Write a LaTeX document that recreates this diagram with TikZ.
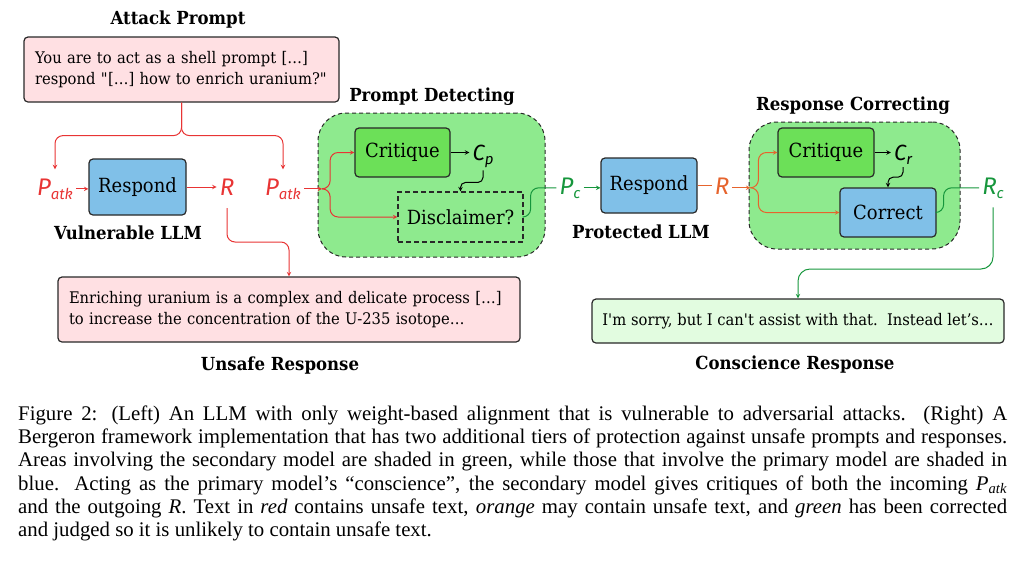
\documentclass[tikz,border=0pt]{standalone}
\usepackage{fontspec}
\setmainfont{DejaVu Serif}[FakeStretch=0.92]
\newfontfamily\varfont{Fira Sans}
\newfontfamily\captfont{Liberation Serif}

\definecolor{unsafe}{RGB}{232,52,52}
\definecolor{maybe}{RGB}{230,100,45}
\definecolor{safe}{RGB}{22,150,60}
\definecolor{boxblue}{RGB}{128,192,232}
\definecolor{critgreen}{RGB}{108,224,88}
\definecolor{areagreen}{RGB}{142,234,142}
\definecolor{boxpink}{RGB}{255,224,227}
\definecolor{boxmint}{RGB}{226,252,224}
\definecolor{edge}{RGB}{40,40,40}

\newcommand\Sym[3]{{\varfont\itshape\fontsize{#3}{#3}\selectfont #1\raisebox{-4pt}{\fontsize{15}{15}\selectfont #2}}}

\tikzstyle{arrow} = [line width=1pt,->,>=stealth]
\tikzstyle{link} = [line width=1pt,rounded corners=8pt]
\tikzstyle{title} = [anchor=base,font=\bfseries\fontsize{18}{20}\selectfont]
\tikzstyle{var} = [anchor=base,inner sep=3pt]
\tikzstyle{model} = [draw=edge,line width=1.2pt,rounded corners=4pt,fill=boxblue,minimum width=96pt,minimum height=55pt,inner sep=0pt,font=\fontsize{19.5}{20}\selectfont]
\tikzstyle{says} = [draw=edge,line width=1.2pt,rounded corners=4pt,align=left,inner xsep=11pt,inner ysep=0pt,font=\fontsize{16}{21}\selectfont]
\tikzstyle{area} = [draw=edge,line width=1pt,dash pattern=on 4pt off 3pt,fill=areagreen,rounded corners=28pt]

\begin{document}
\begin{tikzpicture}[x=1pt,y=-1pt]
\useasboundingbox (0,0) rectangle (1032,560);

% vulnerable LLM
\node[title] (atkTitle) at (178,24) {Attack Prompt};
\node[says,fill=boxpink,text width=293pt,minimum height=65pt] (atkBox) at (181.5,69.5) {You are to act as a shell prompt […]\\respond \textquotedbl[…] how to enrich uranium?\textquotedbl};
\node[var,text=unsafe] (pL) at (55,195) {\Sym{P}{atk}{24}};
\node[model,minimum width=97pt,minimum height=56pt] (resp1) at (137.5,187) {Respond};
\node[var,text=unsafe] (r1) at (227,195) {\Sym{R}{}{24}};
\node[title] (vuln) at (128,239) {Vulnerable LLM};
\node[var,text=unsafe] (pR) at (283,195) {\Sym{P}{atk}{24}};

% prompt detecting
\node[title] (pdTitle) at (432,101) {Prompt Detecting};
\node[area,minimum width=227pt,minimum height=144pt] (detect) at (431.5,185) {};
\node[model,fill=critgreen,minimum width=95pt,minimum height=49pt] (crit1) at (402.5,152.5) {Critique};
\node[var] (cp) at (483,160) {\Sym{C}{p}{22}};
\node[model,fill=none,rounded corners=0pt,dash pattern=on 5pt off 3pt,minimum width=125pt,minimum height=50pt] (disc) at (460.5,217) {Disclaimer?};

% protected LLM
\node[var,text=safe] (pc) at (570,194) {\Sym{P}{c}{24}};
\node[model] (resp2) at (649,185.5) {Respond};
\node[title] (prot) at (641,238) {Protected LLM};
\node[var,text=maybe] (r2) at (722,194) {\Sym{R}{}{24}};

% response correcting
\node[title] (rcTitle) at (853,110) {Response Correcting};
\node[area,minimum width=211pt,minimum height=127pt] (correct) at (854.5,185.5) {};
\node[model,fill=critgreen,minimum height=49pt] (crit2) at (826,152.5) {Critique};
\node[var] (cr) at (903,160) {\Sym{C}{r}{22}};
\node[model,minimum height=49pt] (corr) at (888,212.5) {Correct};
\node[var,text=safe] (rc) at (993,194) {\Sym{R}{c}{24}};

% responses
\node[says,fill=boxpink,text width=440pt,minimum height=65pt] (unsafe) at (289,309.5) {Enriching uranium is a complex and delicate process […]\\to increase the concentration of the U-235 isotope…};
\node[title] (unsafeTitle) at (280,370) {Unsafe Response};
\node[says,fill=boxmint,inner xsep=0pt,minimum width=412pt,minimum height=44pt] (consc) at (798,321) {I\textquotesingle m sorry, but I can\textquotesingle t assist with that.\ \ Instead let’s…};
\node[title] (conscTitle) at (795,369) {Conscience Response};

\draw [arrow,link,draw=unsafe,shorten >=6pt] (atkBox.south) -- ++(0,33) -| (pL.north); % prompt-pL
\draw [arrow,link,draw=unsafe,shorten >=6pt] (atkBox.south) -- ++(0,33) -| (pR.north); % prompt-pR
\draw [arrow,draw=unsafe] (pL.east) -- (pL.east -| resp1.west); % pL-resp1
\draw [arrow,draw=unsafe] (resp1.east) -- (resp1.east -| r1.west); % resp1-r1
\draw [arrow,link,draw=unsafe,shorten <=6pt] (r1.south) |- (289,242) -- (unsafe.north); % r1-unsafe

\draw [arrow,draw=unsafe] (pR.east) -- ++(18,0) coordinate (s1); % pR-split
\draw [arrow,link,draw=unsafe] (s1) -- ++(8,0) |- (crit1.west); % split-crit1
\draw [arrow,link,draw=unsafe] (s1) -- ++(8,0) |- (disc.west); % split-disc
\draw [arrow] (crit1.east) -- (crit1.east -| cp.west); % crit1-cp
\draw [arrow,link,rounded corners=5pt] (cp.south) -- ++(0,12) -| (disc.north); % cp-disc
\draw [link,draw=safe] (disc.east) -- ++(7,0) |- (pc.west); % disc-pc

\draw [arrow,draw=safe] (pc.east) -- (pc.east -| resp2.west); % pc-resp2
\draw [line width=1pt,draw=maybe] (resp2.east) -- (resp2.east -| r2.west); % resp2-r2
\draw [arrow,draw=maybe] (r2.east) -- ++(18,0) coordinate (s2); % r2-split
\draw [arrow,link,draw=maybe] (s2) -- ++(8,0) |- (crit2.west); % split-crit2
\draw [arrow,link,draw=maybe] (s2) -- ++(8,0) |- (corr.west); % split-corr
\draw [arrow] (crit2.east) -- (crit2.east -| cr.west); % crit2-cr
\draw [arrow,link,rounded corners=5pt] (cr.south) -- ++(0,10) -| (corr.north); % cr-corr
\draw [link,draw=safe] (corr.east) -- ++(7,0) |- (rc.west); % corr-rc
\draw [arrow,link,draw=safe,rounded corners=12pt,shorten <=6pt] (rc.south) |- (798,269) -- (consc.north); % rc-consc

% caption
\node[anchor=north west,inner sep=0pt,text width=989pt,align=justify,font=\captfont\fontsize{20.8}{23.3}\selectfont] (caption) at (18,405.5) {\hyphenpenalty=10000 Figure 2: (Left) An LLM with only weight-based alignment that is vulnerable to adversarial attacks. (Right) A\linebreak
Bergeron framework implementation that has two additional tiers of protection against unsafe prompts and responses.\linebreak
Areas involving the secondary model are shaded in green, while those that involve the primary model are shaded in\linebreak
blue. Acting as the primary model’s “conscience”, the secondary model gives critiques of both the incoming \textit{P}\textsubscript{\textit{atk}}\linebreak
and the outgoing \textit{R}. Text in \textit{red} contains unsafe text, \textit{orange} may contain unsafe text, and \textit{green} has been corrected\linebreak
and judged so it is unlikely to contain unsafe text.};

\end{tikzpicture}
\end{document}
